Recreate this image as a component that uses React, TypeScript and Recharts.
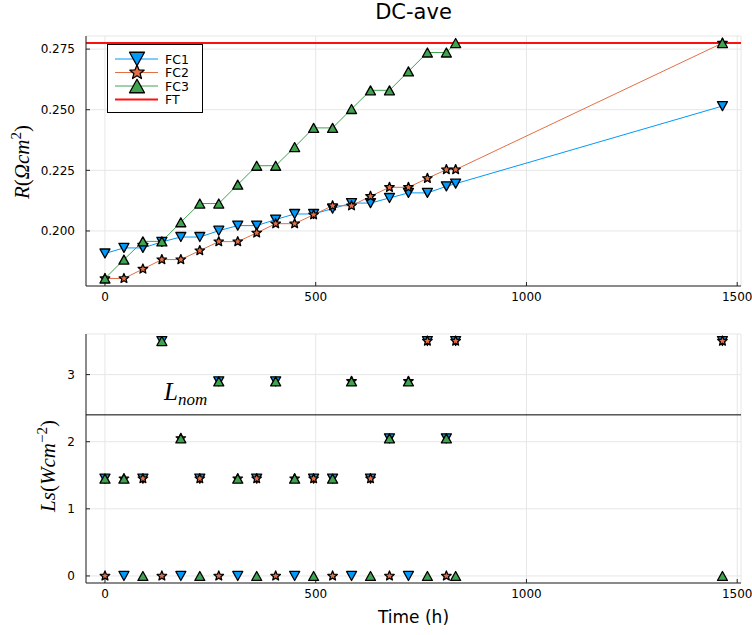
import React from "react";
import {
  LineChart,
  Line,
  ScatterChart,
  Scatter,
  XAxis,
  YAxis,
  CartesianGrid,
  ReferenceLine,
} from "recharts";

// time (h)
const times = [
  0, 45, 90, 135, 180, 225, 270, 315, 360, 405, 450, 495, 540, 585, 630, 675,
  720, 765, 810, 832, 1465,
];

// R (Ohm cm2)
const fc1R = [
  0.1907, 0.193, 0.193, 0.1955, 0.1975, 0.1975, 0.2001, 0.2022, 0.2022, 0.2047,
  0.207, 0.207, 0.2092, 0.2115, 0.2115, 0.2136, 0.2157, 0.2157, 0.2184, 0.2195,
  0.2515,
];
const fc2R = [
  0.1804, 0.1804, 0.1843, 0.1882, 0.1882, 0.1919, 0.1956, 0.1956, 0.1992,
  0.203, 0.203, 0.2067, 0.2104, 0.2104, 0.2143, 0.218, 0.218, 0.2217, 0.2253,
  0.2253, 0.2775,
];
const fc3R = [
  0.1804, 0.1882, 0.1957, 0.1957, 0.2036, 0.2113, 0.2113, 0.2191, 0.2269,
  0.2269, 0.2346, 0.2425, 0.2425, 0.2503, 0.258, 0.258, 0.2658, 0.2736, 0.2736,
  0.2775, 0.2775,
];
const ftR = 0.2775;

// Ls (W cm-2)
const fc1Ls = [
  1.45, 0, 1.45, 3.5, 0, 1.45, 2.9, 0, 1.45, 2.9, 0, 1.45, 1.45, 0, 1.45, 2.05,
  0, 3.5, 2.05, 3.5, 3.5,
];
const fc2Ls = [
  0, 1.45, 1.45, 0, 2.05, 1.45, 0, 1.45, 1.45, 0, 1.45, 1.45, 0, 2.9, 1.45, 0,
  2.9, 3.5, 0, 3.5, 3.5,
];
const fc3Ls = [
  1.45, 1.45, 0, 3.5, 2.05, 0, 2.9, 1.45, 0, 2.9, 1.45, 0, 1.45, 2.9, 0, 2.05,
  2.9, 0, 2.05, 0, 0,
];
const lNom = 2.4;

const xTicks = [0, 500, 1000, 1500];
const rTicks = [0.2, 0.225, 0.25, 0.275];
const lsTicks = [0, 1, 2, 3];

const series = [
  { key: "fc1", name: "FC1", color: "#009AFA", marker: "down" },
  { key: "fc2", name: "FC2", color: "#E36F47", marker: "star" },
  { key: "fc3", name: "FC3", color: "#3EA44E", marker: "up" },
];
const ftColor = "#ff1010";

const rData = times.map((t, i) => ({
  t,
  fc1: fc1R[i],
  fc2: fc2R[i],
  fc3: fc3R[i],
}));
const lsData = [fc1Ls, fc2Ls, fc3Ls].map((arr) =>
  times.map((t, i) => ({ t, ls: arr[i] }))
);

const FONT = "DejaVu Sans";
const MATH = "Liberation Serif";
const tickStyle = { fill: "#000", fontSize: 12, fontFamily: FONT };

const Marker = ({ kind, cx, cy, fill, s = 1 }: any) => {
  if (cx == null || cy == null) return null;
  if (kind === "star") {
    const pts: string[] = [];
    for (let k = 0; k < 10; k++) {
      const r = k % 2 === 0 ? 5 * s : 2.2 * s;
      const a = -Math.PI / 2 + (k * Math.PI) / 5;
      pts.push(`${cx + r * Math.cos(a)},${cy + r * Math.sin(a)}`);
    }
    return (
      <polygon
        points={pts.join(" ")}
        fill={fill}
        stroke="#000"
        strokeWidth={1.3}
        strokeLinejoin="round"
      />
    );
  }
  const w = 5 * s;
  const h = 4.5 * s;
  const pts =
    kind === "down"
      ? `${cx - w},${cy - h} ${cx + w},${cy - h} ${cx},${cy + h}`
      : `${cx - w},${cy + h} ${cx + w},${cy + h} ${cx},${cy - h}`;
  return (
    <polygon
      points={pts}
      fill={fill}
      stroke="#000"
      strokeWidth={1.3}
      strokeLinejoin="round"
    />
  );
};

// y-axis titles, centred on each plot area
const RLabel = () => (
  <text
    transform="translate(29,162) rotate(-90)"
    textAnchor="middle"
    fontFamily={MATH}
    fontSize={21}
    fill="#000"
  >
    <tspan fontStyle="italic">R</tspan>
    <tspan>(</tspan>
    <tspan fontStyle="italic">Ωcm</tspan>
    <tspan dy={-8} fontSize={15}>
      2
    </tspan>
    <tspan dy={8}>)</tspan>
  </text>
);

const LsLabel = () => (
  <text
    transform="translate(55,146) rotate(-90)"
    textAnchor="middle"
    fontFamily={MATH}
    fontSize={21}
    fill="#000"
  >
    <tspan fontStyle="italic">Ls</tspan>
    <tspan>(</tspan>
    <tspan fontStyle="italic">Wcm</tspan>
    <tspan dy={-8} fontSize={15}>
      −2
    </tspan>
    <tspan dy={8}>)</tspan>
  </text>
);

const NomLabel = (props: any) => {
  const vb = props.viewBox || { x: 86, y: 95 };
  return (
    <text
      x={vb.x + 78}
      y={vb.y - 15}
      fontFamily={MATH}
      fontStyle="italic"
      fontSize={25}
      fill="#000"
    >
      L
      <tspan fontSize={17} dy={5}>
        nom
      </tspan>
    </text>
  );
};

const TimeLabel = (props: any) => {
  const vb = props.viewBox || { x: 86, y: 263, width: 655 };
  return (
    <text
      x={vb.x + vb.width / 2}
      y={vb.y + 40}
      textAnchor="middle"
      fontFamily={FONT}
      fontSize={17}
      fill="#000"
    >
      Time (h)
    </text>
  );
};

const LegendBox = () => (
  <svg
    width={97}
    height={70}
    style={{ position: "absolute", left: 107, top: 44 }}
  >
    <rect x={0.5} y={0.5} width={95} height={68} fill="#fff" stroke="#000" />
    {series.map((s, i) => {
      const y = 15 + i * 13.5;
      return (
        <g key={s.key}>
          <line x1={8} x2={51} y1={y} y2={y} stroke={s.color} strokeWidth={1} />
          <Marker kind={s.marker} cx={30} cy={y} fill={s.color} s={1.5} />
          <text
            x={58}
            y={y + 4.5}
            fontFamily={FONT}
            fontSize={12.5}
            fill="#000"
          >
            {s.name}
          </text>
        </g>
      );
    })}
    <line x1={8} x2={51} y1={55.5} y2={55.5} stroke={ftColor} strokeWidth={2} />
    <text x={58} y={60} fontFamily={FONT} fontSize={12.5} fill="#000">
      FT
    </text>
  </svg>
);

const App: React.FC = () => {
  return (
    <div
      style={{
        position: "absolute",
        left: 0,
        top: 0,
        width: 752,
        height: 635,
        background: "#fff",
        fontFamily: FONT,
      }}
    >
      <div
        style={{
          position: "absolute",
          left: 86,
          top: 0,
          width: 655,
          lineHeight: "25px",
          textAlign: "center",
          fontSize: 21,
          color: "#000",
        }}
      >
        DC-ave
      </div>

      <div style={{ position: "absolute", left: 0, top: 0 }}>
        <LineChart
          width={752}
          height={320}
          data={rData}
          margin={{ top: 36, right: 11, bottom: 4, left: 0 }}
        >
          <CartesianGrid stroke="#e6e6e6" />
          <XAxis
            type="number"
            dataKey="t"
            domain={[-45, 1509]}
            allowDataOverflow
            ticks={xTicks}
            height={30}
            tick={tickStyle}
            tickSize={-4}
            tickMargin={10}
            stroke="#222"
          />
          <YAxis
            type="number"
            domain={[0.1773, 0.2804]}
            allowDataOverflow
            ticks={rTicks}
            tickFormatter={(v: number) => v.toFixed(3)}
            width={86}
            tick={tickStyle}
            tickSize={-4}
            tickMargin={15}
            stroke="#222"
            label={() => <RLabel />}
          />
          {series.map((s) => (
            <Line
              key={s.key}
              type="linear"
              dataKey={s.key}
              stroke={s.color}
              strokeWidth={1}
              isAnimationActive={false}
              activeDot={false}
              dot={(p: any) => (
                <Marker
                  key={`${s.key}-${p.index}`}
                  kind={s.marker}
                  cx={p.cx}
                  cy={p.cy}
                  fill={s.color}
                />
              )}
            />
          ))}
          <ReferenceLine y={ftR} stroke={ftColor} strokeWidth={2} />
        </LineChart>
      </div>

      <div style={{ position: "absolute", left: 0, top: 320 }}>
        <ScatterChart
          width={752}
          height={315}
          margin={{ top: 14, right: 11, bottom: 2, left: 0 }}
        >
          <CartesianGrid stroke="#e6e6e6" />
          <XAxis
            type="number"
            dataKey="t"
            domain={[-45, 1509]}
            allowDataOverflow
            ticks={xTicks}
            height={50}
            tick={tickStyle}
            tickSize={-4}
            tickMargin={10}
            stroke="#222"
            label={(p: any) => <TimeLabel {...p} />}
          />
          <YAxis
            type="number"
            dataKey="ls"
            domain={[-0.105, 3.605]}
            allowDataOverflow
            ticks={lsTicks}
            width={86}
            tick={tickStyle}
            tickSize={-4}
            tickMargin={15}
            stroke="#222"
            label={() => <LsLabel />}
          />
          <ReferenceLine
            y={lNom}
            stroke="#000"
            strokeWidth={1}
            label={(p: any) => <NomLabel {...p} />}
          />
          {series.map((s, i) => (
            <Scatter
              key={s.key}
              name={s.name}
              data={lsData[i]}
              fill={s.color}
              isAnimationActive={false}
              shape={(p: any) => (
                <Marker kind={s.marker} cx={p.cx} cy={p.cy} fill={s.color} />
              )}
            />
          ))}
        </ScatterChart>
      </div>

      <LegendBox />
    </div>
  );
};

export default App;
